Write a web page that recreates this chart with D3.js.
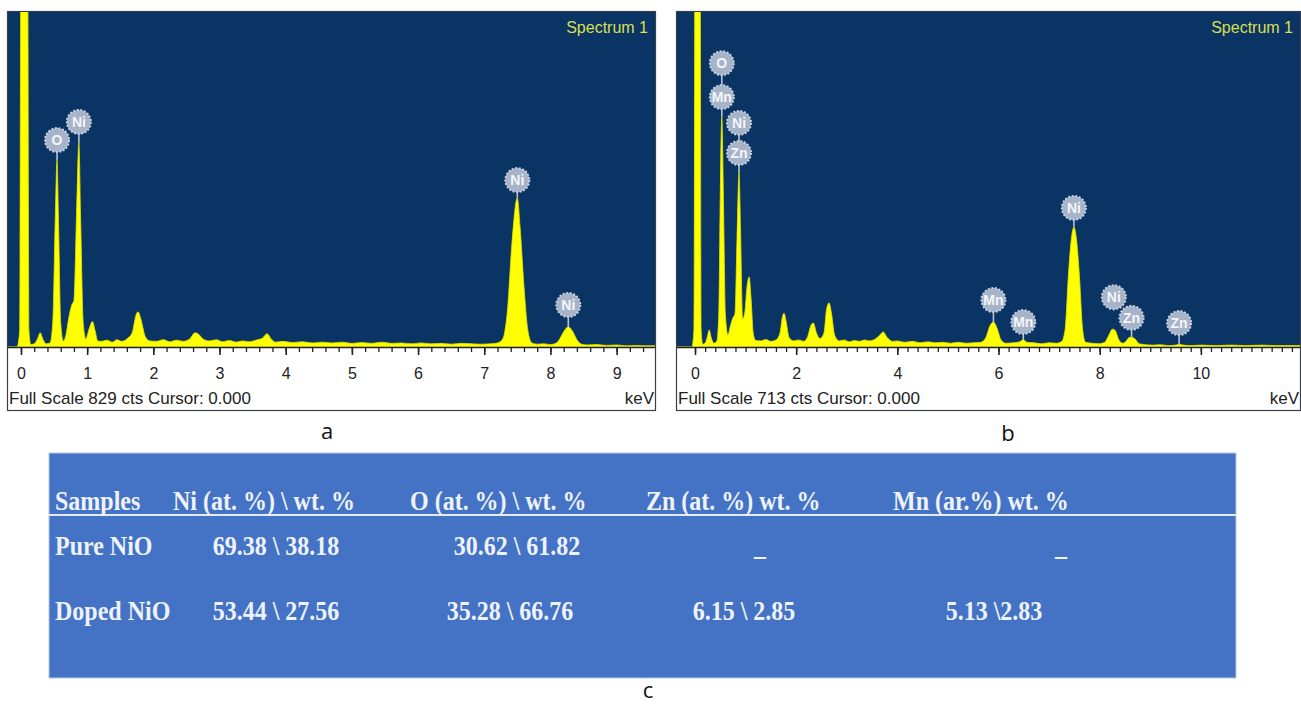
<!DOCTYPE html>
<html lang="en">
<head>
    <meta charset="UTF-8">
    <title>EDX spectra of pure and doped NiO</title>
    <script src="https://d3js.org/d3.v7.min.js"></script>
    <style>
        body {
            margin: 0;
            padding: 0;
            background: #fff;
        }
        svg {
            display: block;
            font-family: "Liberation Sans", Arial, sans-serif;
        }
        .tick-label {
            font-size: 16px;
            fill: #222;
        }
        .tbl {
            font-family: "Liberation Serif", "Times New Roman", serif;
            font-weight: bold;
            font-size: 24px;
            fill: #eef2fa;
        }
        .caption {
            font-family: "Open Sans", sans-serif;
            font-size: 22px;
            fill: #111;
        }
    </style>
</head>
<body>
<script>
    // spectrum (a) pure NiO : [keV, counts]
    const specA = [
        [-0.2, 0], [-0.06, 0], [-0.02, 40], [0.0, 1000], [0.1, 1000], [0.12, 40], [0.15, 6],
        [0.2, 8], [0.25, 20], [0.29, 35], [0.33, 20], [0.38, 8], [0.44, 10], [0.48, 60],
        [0.52, 330], [0.545, 463], [0.565, 330], [0.6, 60], [0.64, 15], [0.68, 30], [0.72, 70],
        [0.77, 105], [0.8, 115], [0.84, 330], [0.875, 505], [0.9, 330], [0.94, 60], [0.98, 20],
        [1.03, 45], [1.08, 63], [1.12, 40], [1.16, 15], [1.22, 14], [1.3, 17], [1.38, 12],
        [1.45, 18], [1.52, 14], [1.6, 20], [1.68, 35], [1.74, 80], [1.77, 87], [1.81, 70],
        [1.88, 25], [1.95, 15], [2.05, 14], [2.15, 18], [2.25, 13], [2.35, 17], [2.45, 14],
        [2.55, 20], [2.63, 35], [2.68, 32], [2.75, 20], [2.85, 15], [2.95, 18], [3.05, 13],
        [3.15, 16], [3.25, 12], [3.35, 15], [3.45, 13], [3.55, 17], [3.65, 22], [3.72, 33],
        [3.78, 20], [3.85, 12], [3.95, 14], [4.1, 11], [4.25, 13], [4.4, 10], [4.55, 12],
        [4.7, 10], [4.85, 12], [5.0, 9], [5.15, 11], [5.3, 9], [5.45, 12], [5.6, 9], [5.75, 10],
        [5.9, 8], [6.05, 10], [6.2, 8], [6.35, 9], [6.5, 7], [6.65, 9], [6.8, 8], [6.95, 7],
        [7.1, 8], [7.2, 10], [7.28, 20], [7.35, 90], [7.42, 260], [7.5, 369], [7.54, 300],
        [7.6, 150], [7.66, 40], [7.72, 10], [7.8, 7], [7.9, 8], [8.0, 6], [8.08, 9], [8.14, 20],
        [8.2, 38], [8.27, 50], [8.33, 40], [8.4, 18], [8.47, 7], [8.55, 5], [8.7, 6], [8.85, 4],
        [9.0, 5], [9.15, 3], [9.3, 4], [9.45, 3], [9.58, 3]
    ];

    // spectrum (b) Zn/Mn doped NiO : [keV, counts]
    const specB = [
        [-0.36, 0], [-0.06, 0], [-0.02, 40], [0.0, 900], [0.1, 900], [0.12, 40], [0.15, 6],
        [0.2, 8], [0.24, 20], [0.28, 36], [0.32, 20], [0.37, 8], [0.43, 12], [0.47, 70],
        [0.5, 330], [0.53, 490], [0.56, 330], [0.6, 70], [0.65, 25], [0.7, 45], [0.75, 62],
        [0.79, 70], [0.83, 230], [0.87, 370], [0.9, 250], [0.94, 60], [0.98, 70], [1.03, 130],
        [1.07, 149], [1.11, 100], [1.15, 30], [1.2, 14], [1.3, 13], [1.4, 16], [1.5, 12],
        [1.6, 15], [1.68, 30], [1.73, 65], [1.76, 72], [1.8, 55], [1.86, 20], [1.95, 13],
        [2.05, 15], [2.15, 12], [2.22, 20], [2.3, 48], [2.34, 51], [2.4, 30], [2.47, 18],
        [2.55, 30], [2.6, 80], [2.65, 94], [2.7, 70], [2.76, 25], [2.85, 13], [2.95, 15],
        [3.05, 11], [3.15, 14], [3.25, 12], [3.35, 15], [3.45, 13], [3.55, 16], [3.65, 25],
        [3.72, 32], [3.8, 20], [3.9, 12], [4.0, 13], [4.15, 10], [4.3, 12], [4.45, 9],
        [4.6, 11], [4.75, 9], [4.9, 10], [5.05, 8], [5.2, 10], [5.35, 8], [5.5, 9], [5.65, 10],
        [5.75, 20], [5.83, 45], [5.9, 53], [5.97, 40], [6.05, 15], [6.15, 8], [6.3, 9],
        [6.42, 11], [6.49, 16], [6.56, 10], [6.7, 9], [6.85, 7], [7.0, 9], [7.15, 8],
        [7.25, 12], [7.32, 40], [7.38, 150], [7.44, 230], [7.49, 255], [7.54, 230], [7.6, 150],
        [7.66, 40], [7.72, 10], [7.85, 8], [8.0, 7], [8.1, 10], [8.18, 25], [8.25, 38],
        [8.3, 36], [8.38, 15], [8.46, 8], [8.52, 12], [8.58, 20], [8.63, 21], [8.7, 17],
        [8.78, 7], [8.9, 5], [9.05, 4], [9.2, 5], [9.35, 3], [9.5, 4], [9.57, 6], [9.65, 4],
        [9.8, 3], [10.0, 4], [10.3, 3], [10.6, 4], [10.9, 3], [11.2, 4], [11.5, 3], [11.96, 3]
    ];

    // peak markers: [element, keV, label height (cts), stem end (cts)]
    const labelsA = [
        ['O', 0.545, 512, 463],
        ['Ni', 0.875, 557, 505],
        ['Ni', 7.5, 413, 369],
        ['Ni', 8.27, 104, 50]
    ];
    const labelsB = [
        ['O', 0.53, 604, 532],
        ['Mn', 0.53, 532, 490],
        ['Ni', 0.87, 477, 413],
        ['Zn', 0.87, 413, 370],
        ['Mn', 5.9, 100, 53],
        ['Mn', 6.49, 53, 16],
        ['Ni', 7.49, 296, 255],
        ['Ni', 8.28, 106, 78],
        ['Zn', 8.63, 62, 21],
        ['Zn', 9.57, 51, 5]
    ];

    const ticksA = [0, 1, 2, 3, 4, 5, 6, 7, 8, 9];
    const ticksB = [0, 2, 4, 6, 8, 10];
    const fullScaleA = 829;
    const fullScaleB = 713;

    // table (c)
    const tableHeader = ['Samples', 'Ni (at. %) \\ wt. %', 'O (at. %) \\ wt. %', 'Zn (at. %) wt. %', 'Mn (ar.%) wt. %'];
    const tableRows = [
        ['Pure NiO', '69.38 \\ 38.18', '30.62 \\ 61.82', '_', '_'],
        ['Doped NiO', '53.44 \\ 27.56', '35.28 \\ 66.76', '6.15 \\ 2.85', '5.13 \\2.83']
    ];

    const W = 1301, H = 704;
    const svg = d3.select('body').append('svg')
        .attr('width', W)
        .attr('height', H);

    svg.append('rect').attr('width', W).attr('height', H).attr('fill', '#fff');

    function drawSpectrum(cfg) {
        const g = svg.append('g');
        const x = d3.scaleLinear().domain(cfg.domain).range([cfg.left, cfg.right]);
        const y = d3.scaleLinear().domain([0, cfg.fullScale]).range([cfg.axisY, cfg.top]);

        // outer frame + white axis strip
        g.append('rect')
            .attr('x', cfg.left - 0.5).attr('y', cfg.top - 0.5)
            .attr('width', cfg.right - cfg.left + 1).attr('height', cfg.bottom - cfg.top + 1)
            .attr('fill', '#fff').attr('stroke', '#3a3f48').attr('stroke-width', 1.2);

        g.append('rect')
            .attr('x', cfg.left).attr('y', cfg.top)
            .attr('width', cfg.right - cfg.left).attr('height', cfg.axisY - cfg.top)
            .attr('fill', '#0a3464');

        const clipId = 'clip-' + cfg.id;
        g.append('clipPath').attr('id', clipId)
            .append('rect')
            .attr('x', cfg.left).attr('y', cfg.top)
            .attr('width', cfg.right - cfg.left).attr('height', cfg.axisY - cfg.top);

        const area = d3.area()
            .x(d => x(d[0]))
            .y0(y(0))
            .y1(d => y(d[1]))
            .curve(d3.curveMonotoneX);

        g.append('path')
            .datum(cfg.data)
            .attr('clip-path', `url(#${clipId})`)
            .attr('d', area)
            .attr('fill', '#ffff00')
            .attr('stroke', '#e3e300')
            .attr('stroke-width', 0.8);

        // peak labels
        const lab = g.append('g').selectAll('g')
            .data(cfg.labels)
            .enter().append('g');

        lab.append('line')
            .attr('x1', d => x(d[1])).attr('x2', d => x(d[1]))
            .attr('y1', d => y(d[2])).attr('y2', d => y(d[3]))
            .attr('stroke', '#b9c3d3').attr('stroke-width', 1.6);

        lab.append('circle')
            .attr('cx', d => x(d[1])).attr('cy', d => y(d[2]))
            .attr('r', 12)
            .attr('fill', '#a6b3c8')
            .attr('stroke', '#c6cfdc')
            .attr('stroke-width', 2)
            .attr('stroke-dasharray', '2,1.6');

        lab.append('text')
            .attr('x', d => x(d[1])).attr('y', d => y(d[2]) + 5)
            .attr('text-anchor', 'middle')
            .style('font-size', '14px')
            .style('font-weight', 'bold')
            .attr('fill', '#f4f6fa')
            .text(d => d[0]);

        // axis
        const minor = d3.range(0, cfg.domain[1], 0.2);
        g.append('g')
            .attr('transform', `translate(0,${cfg.axisY})`)
            .call(d3.axisBottom(x).tickValues(minor).tickSize(5).tickFormat(''))
            .call(a => a.select('.domain').remove())
            .call(a => a.selectAll('line').attr('stroke', '#222').attr('stroke-width', 1.3));

        const major = g.append('g')
            .attr('transform', `translate(0,${cfg.axisY})`)
            .call(d3.axisBottom(x).tickValues(cfg.ticks).tickSize(8).tickPadding(13).tickFormat(d3.format('d')))
            .call(a => a.select('.domain').remove())
            .call(a => a.selectAll('line').attr('stroke', '#222').attr('stroke-width', 1.6));
        major.selectAll('text')
            .attr('class', 'tick-label')
            .attr('font-family', null)
            .attr('font-size', null);

        g.append('line')
            .attr('x1', cfg.left).attr('x2', cfg.right)
            .attr('y1', cfg.axisY + 0.5).attr('y2', cfg.axisY + 0.5)
            .attr('stroke', '#222').attr('stroke-width', 1.5);

        g.append('text')
            .attr('x', cfg.right - 7).attr('y', cfg.top + 21)
            .attr('text-anchor', 'end')
            .style('font-size', '16px')
            .attr('fill', '#d9df52')
            .text('Spectrum 1');

        g.append('text')
            .attr('x', cfg.left + 1).attr('y', cfg.bottom - 6)
            .style('font-size', '17px')
            .attr('fill', '#222')
            .text(`Full Scale ${cfg.fullScale} cts Cursor: 0.000`);

        g.append('text')
            .attr('x', cfg.right - 1).attr('y', cfg.bottom - 6)
            .attr('text-anchor', 'end')
            .style('font-size', '17px')
            .attr('fill', '#222')
            .text('keV');
    }

    drawSpectrum({
        id: 'a', data: specA, labels: labelsA, ticks: ticksA, fullScale: fullScaleA,
        domain: [-0.196, 9.58], left: 8, right: 655, top: 12, axisY: 347, bottom: 410
    });
    drawSpectrum({
        id: 'b', data: specB, labels: labelsB, ticks: ticksB, fullScale: fullScaleB,
        domain: [-0.356, 11.96], left: 677, right: 1300, top: 12, axisY: 347, bottom: 410
    });

    // captions
    svg.append('text').attr('class', 'caption').attr('x', 327).attr('y', 439).attr('text-anchor', 'middle').text('a');
    svg.append('text').attr('class', 'caption').attr('x', 1008).attr('y', 441).attr('text-anchor', 'middle').text('b');
    svg.append('text').attr('class', 'caption').attr('x', 648).attr('y', 698).attr('text-anchor', 'middle').text('c');

    // table
    const tbl = svg.append('g');
    tbl.append('rect')
        .attr('x', 49).attr('y', 453)
        .attr('width', 1187).attr('height', 225)
        .attr('fill', '#4472c4')
        .attr('stroke', '#b8c8e6').attr('stroke-width', 1);

    tbl.append('line')
        .attr('x1', 49).attr('x2', 1236)
        .attr('y1', 515).attr('y2', 515)
        .attr('stroke', '#e4ecf7').attr('stroke-width', 2.2);

    // serif text in the source is a little taller than wide
    const stretch = (x, y) => `translate(${x},${y}) scale(1,1.12)`;

    const headerX = [55, 173, 410, 646, 893];
    tbl.selectAll('.hdr')
        .data(tableHeader)
        .enter().append('text')
        .attr('class', 'tbl')
        .attr('transform', (d, i) => stretch(headerX[i], 510))
        .text(d => d);

    const rowY = [555, 620];
    const cellX = [
        [55, 276, 517, 760, 1061],
        [55, 276, 510, 744, 994]
    ];
    tableRows.forEach((row, r) => {
        tbl.selectAll('.row' + r)
            .data(row)
            .enter().append('text')
            .attr('class', 'tbl')
            .attr('transform', (d, i) => stretch(cellX[r][i], rowY[r]))
            .attr('text-anchor', (d, i) => i === 0 ? 'start' : 'middle')
            .text(d => d);
    });
</script>
</body>
</html>
